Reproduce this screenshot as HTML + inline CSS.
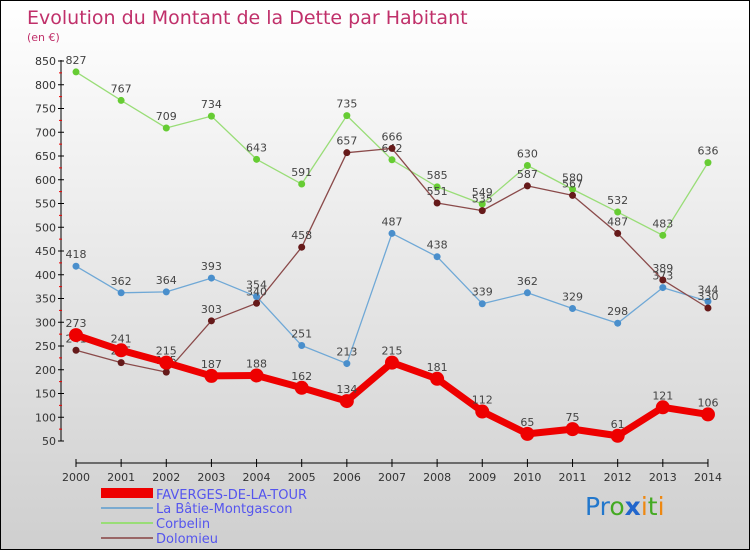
<!DOCTYPE html>
<html><head><meta charset="utf-8"><style>
body{margin:0;}
#c{width:748px;height:548px;border:1px solid #000;background:linear-gradient(#ffffff,#cfcfcf);position:relative;overflow:hidden;font-family:"DejaVu Sans","Liberation Sans",sans-serif;}
svg text{font-family:"DejaVu Sans","Liberation Sans",sans-serif;}
</style></head><body>
<div id="c">
<svg id="s" width="748" height="548" xmlns="http://www.w3.org/2000/svg">
<text x="26" y="23" font-size="19" fill="#c0306a">Evolution du Montant de la Dette par Habitant</text>
<text x="26" y="40" font-size="11" fill="#c0306a">(en €)</text>
<g id="axes"></g><g id="series"></g>
<g>
<rect x="100" y="487" width="52" height="10" fill="#e00"/>
<text x="155" y="498" font-size="13" fill="#5555ee">FAVERGES-DE-LA-TOUR</text>
<rect x="100" y="506" width="52" height="2" fill="#7aaad0"/>
<text x="155" y="512" font-size="13" fill="#5555ee">La Bâtie-Montgascon</text>
<rect x="100" y="521" width="52" height="2" fill="#99dd77"/>
<text x="155" y="527" font-size="13" fill="#5555ee">Corbelin</text>
<rect x="100" y="536" width="52" height="2" fill="#996666"/>
<text x="155" y="542" font-size="13" fill="#5555ee">Dolomieu</text>
</g>
<text x="584" y="514" font-size="25"><tspan fill="#2277cc">Pr</tspan><tspan fill="#44aa22">o</tspan><tspan fill="#2266cc" font-weight="bold">x</tspan><tspan fill="#ee8811">i</tspan><tspan fill="#44aa22">t</tspan><tspan fill="#ee8811">i</tspan></text>
</svg></div>
<script>
const years=[2000,2001,2002,2003,2004,2005,2006,2007,2008,2009,2010,2011,2012,2013,2014];
const yTicks=[50,100,150,200,250,300,350,400,450,500,550,600,650,700,750,800,850];
const faverges=[273,241,215,187,188,162,134,215,181,112,65,75,61,121,106];
const batie=[418,362,364,393,354,251,213,487,438,339,362,329,298,373,344];
const corbelin=[827,767,709,734,643,591,735,642,585,549,630,580,532,483,636];
const dolomieu=[241,215,195,303,340,458,657,666,551,535,587,567,487,389,330];
const NS="http://www.w3.org/2000/svg";
const X=i=>75+i*45.14;
const Y=v=>60+(850-v)*0.475;
function mk(t,a,p){const e=document.createElementNS(NS,t);for(const k in a)e.setAttribute(k,a[k]);p.appendChild(e);return e;}
const ax=document.getElementById('axes');
let e=mk('line',{x1:60,y1:Y(850)-1,x2:60,y2:Y(50),stroke:'#000'},ax);


e=mk('line',{x1:X(0),y1:462,x2:X(14),y2:462,stroke:'#000'},ax);


yTicks.forEach((v,i)=>{
 mk('line',{x1:57,y1:Y(v),x2:63,y2:Y(v),stroke:'#000'},ax);
 if(i<yTicks.length-1)mk('line',{x1:58,y1:Y(v+25),x2:61,y2:Y(v+25),stroke:'#e00'},ax);
 const t=mk('text',{x:55,y:Y(v)+4,'font-size':11,fill:'#333','text-anchor':'end'},ax);t.textContent=v;
 
 
});
years.forEach((y,i)=>{
 mk('line',{x1:X(i),y1:458,x2:X(i),y2:466,stroke:'#000'},ax);
 const t=mk('text',{x:X(i),y:480,'font-size':11,fill:'#333','text-anchor':'middle'},ax);t.textContent=y;
 
 
});
const sg=document.getElementById('series');
function draw(vals,name,col,dot,w,r){
 const g=mk('g',{},sg);
 
 
 const l=mk('polyline',{points:vals.map((v,i)=>X(i)+','+Y(v)).join(' '),fill:'none',stroke:col,'stroke-width':w,'stroke-linejoin':'round'},g);
 
 
 vals.forEach((v,i)=>{
  const c=mk('circle',{cx:X(i),cy:Y(v),r:r,fill:dot},g);
  
  
  const t=mk('text',{x:X(i),y:Y(v)-8,'font-size':11,fill:'#444','text-anchor':'middle'},g);t.textContent=v;
  
  
 });
}
draw(corbelin,'corbelin','#99dd77','#66cc33',1.3,3.5);
draw(batie,'batie','#6fa8d6','#4a8fcc',1.3,3.5);
draw(dolomieu,'dolomieu','#8a4a4a','#661a1a',1.3,3.5);
draw(faverges,'faverges','#ee0000','#ee0000',7,7);
</script>
</body></html>
